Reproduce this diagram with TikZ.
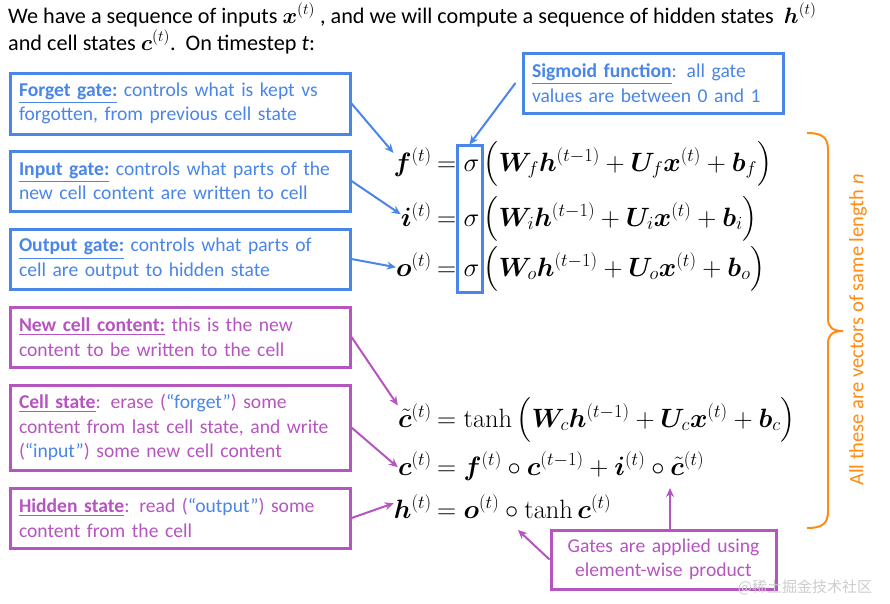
\RequirePackage{fix-cm}
\documentclass[tikz,border=0pt]{standalone}
\usepackage{amsmath}
\usepackage{bm}
\usepackage[no-math]{fontspec}
\setmainfont{Carlito}
\newfontfamily\cjkfont{Noto Sans CJK SC}
\usetikzlibrary{arrows.meta}
\definecolor{gblue}{RGB}{74,134,232}
\definecolor{gpurple}{RGB}{182,84,192}
\definecolor{gorange}{RGB}{255,140,20}
\definecolor{wmgray}{RGB}{205,205,205}
\newcommand{\hd}[1]{\underline{\textbf{#1}}}
\newcommand{\LP}{\mathopen{\hbox{$\left(\vcenter to 44pt{}\right.\kern-\nulldelimiterspace$}}}
\newcommand{\RP}{\mathclose{\hbox{$\kern-\nulldelimiterspace\left.\vcenter to 44pt{}\right)$}}}
\begin{document}
\begin{tikzpicture}[x=1pt,y=-1pt,
  bbox/.style={draw=gblue,line width=3pt,text=gblue,align=left,text width=322pt,
    inner xsep=9pt,inner ysep=0pt,font=\fontsize{19.6}{24.5}\selectfont},
  pbox/.style={bbox,draw=gpurple,text=gpurple},
  eq/.style={inner sep=0pt,font=\fontsize{26.5}{30}\selectfont},
  hdr/.style={inner sep=0pt,font=\fontsize{22.2}{27}\selectfont,anchor=base west},
  barr/.style={draw=gblue,line width=2pt,-{Stealth[length=9pt,width=8pt]}},
  parr/.style={barr,draw=gpurple}]
\useasboundingbox (0,0) rectangle (890,603);
\fill[white] (0,0) rectangle (890,603);

% header
\node[hdr] (hd1) at (8,23) {We have a sequence of inputs $\bm{x}^{(t)}$ , and we will compute a sequence of hidden states \ $\bm{h}^{(t)}$};
\node[hdr] (hd2) at (8,50) {and cell states $\bm{c}^{(t)}$.\ \ On timestep \textit{t}:};

% blue boxes
\node[bbox,minimum height=61pt] (fg) at (180,103.5) {\hd{Forget gate:} controls what is kept vs\\ forgotten, from previous cell state};
\node[bbox,minimum height=60pt] (ig) at (180,181) {\hd{Input gate:} controls what parts of the\\ new cell content are written to cell};
\node[bbox,minimum height=60pt] (og) at (180,259) {\hd{Output gate:} controls what parts of\\ cell are output to hidden state};
\node[bbox,text width=242pt,minimum height=60pt] (sg) at (653,83) {\hd{Sigmoid function}: all gate\\ values are between 0 and 1};

% purple boxes
\node[pbox,minimum height=60pt] (nc) at (180,337) {\hd{New cell content:} this is the new\\ content to be written to the cell};
\node[pbox,minimum height=85pt] (cs) at (180,427.5) {\hd{Cell state}: erase ({\color{gblue}“forget”}) some\\ content from last cell state, and write\\ ({\color{gblue}“input”}) some new cell content};
\node[pbox,minimum height=60pt] (hs) at (180,518) {\hd{Hidden state}: read ({\color{gblue}“output”}) some\\ content from the cell};
\node[pbox,text width=207pt,align=center,minimum height=59pt] (gb) at (663.5,559.5) {Gates are applied using\\ element-wise product};

% equations
\node[eq,anchor=base east] (fl) at (432,171) {$\bm{f}^{(t)}$};
\node[eq,anchor=base west] (fr) at (437,171) {$=\sigma\,\LP\bm{W}_f\bm{h}^{(t-1)}+\bm{U}_f\bm{x}^{(t)}+\bm{b}_f\RP$};
\node[eq,anchor=base east] (il) at (432,226) {$\bm{i}^{(t)}$};
\node[eq,anchor=base west] (ir) at (437,226) {$=\sigma\,\LP\bm{W}_i\bm{h}^{(t-1)}+\bm{U}_i\bm{x}^{(t)}+\bm{b}_i\RP$};
\node[eq,anchor=base east] (ol) at (432,276) {$\bm{o}^{(t)}$};
\node[eq,anchor=base west] (or) at (437,276) {$=\sigma\,\LP\bm{W}_o\bm{h}^{(t-1)}+\bm{U}_o\bm{x}^{(t)}+\bm{b}_o\RP$};
\node[eq,anchor=base east] (ctl) at (432,427) {$\tilde{\bm{c}}^{(t)}$};
\node[eq,anchor=base west] (ctr) at (437,427) {$=\tanh\,\LP\bm{W}_c\bm{h}^{(t-1)}+\bm{U}_c\bm{x}^{(t)}+\bm{b}_c\RP$};
\node[eq,anchor=base east] (cl) at (432,475) {$\bm{c}^{(t)}$};
\node[eq,anchor=base west] (cr) at (437,475) {$=\bm{f}^{(t)}\circ\bm{c}^{(t-1)}+\bm{i}^{(t)}\circ\tilde{\bm{c}}^{(t)}$};
\node[eq,anchor=base east] (hl) at (432,518) {$\bm{h}^{(t)}$};
\node[eq,anchor=base west] (hr) at (437,518) {$=\bm{o}^{(t)}\circ\tanh\bm{c}^{(t)}$};

% sigma box
\node[draw=gblue,line width=3pt,minimum width=25pt,minimum height=147pt,inner sep=0pt] (sig) at (469.5,218.5) {};

% brace
\draw[gorange,line width=2pt] (807,133) .. controls (822,133) and (828,137) .. (828,150)
  -- (828,318) .. controls (828,327) and (832,331) .. (843,331)
  .. controls (832,331) and (828,335) .. (828,344)
  -- (828,511) .. controls (828,524) and (822,528) .. (807,528);
\node[rotate=90,text=gorange,inner sep=0pt,font=\fontsize{20.5}{22}\selectfont] (vec) at (858,330) {All these are vectors of same length \textit{n}};

% arrows
\coordinate (circ1) at (518,530);
\coordinate (circ2) at (670,488);
\draw[barr] (fg.east) -- (fl.155);
\draw[barr] (ig.east) -- (il.west);
\draw[barr] (og.east) -- ([yshift=-3pt]ol.west);
\draw[barr] ([xshift=-6pt]sg.west) -- ([yshift=-1pt]sig.north);
\draw[parr] (nc.east) -- (ctl.150);
\draw[parr] (cs.east) -- ([yshift=-4pt]cl.west);
\draw[parr] (hs.east) -- ([yshift=3pt]hl.west);
\draw[parr] (gb.west) -- (circ1);
\draw[parr] (gb.north -| circ2) -- (circ2);

% watermark
\node[text=wmgray,inner sep=0pt,font=\cjkfont\fontsize{15}{18}\selectfont] (wm) at (805,587) {@稀土掘金技术社区};
\end{tikzpicture}
\end{document}
